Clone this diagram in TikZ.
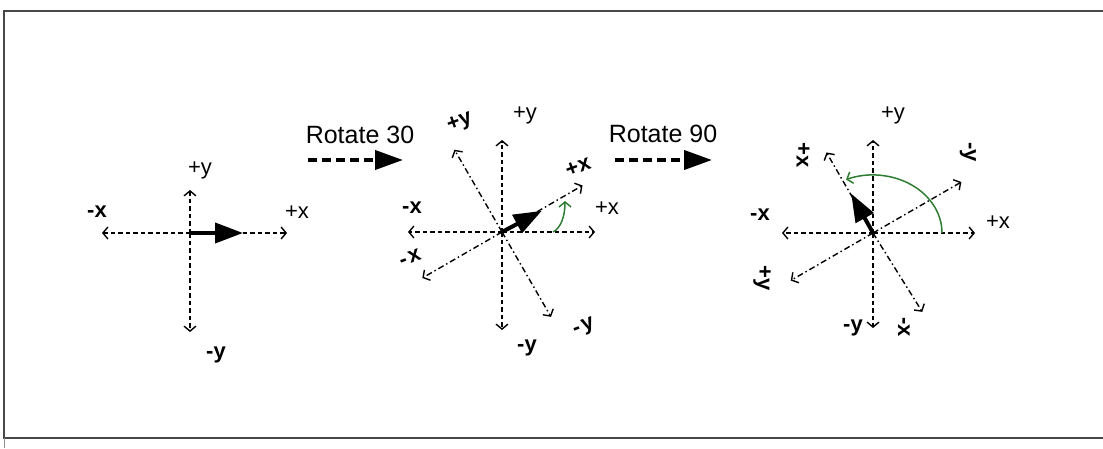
\documentclass[tikz,border=0pt]{standalone}
\usepackage{fontspec}
\setmainfont{Liberation Sans}
\usetikzlibrary{arrows.meta,calc}
\definecolor{framegray}{RGB}{72,72,72}
\definecolor{arcgreen}{RGB}{46,125,50}
\begin{document}
\begin{tikzpicture}[x=1pt,y=1pt,
  axis/.style={line width=1.4pt, dash pattern=on 4.5pt off 3pt, -{Straight Barb[length=5pt,width=12pt]}},
  raxis/.style={line width=1.4pt, dash pattern=on 6pt off 3pt on 1.5pt off 3pt, -{Straight Barb[length=5pt,width=12pt]}},
  vec/.style={line width=4pt, -{Triangle[length=28pt,width=20pt]}},
  bigarrow/.style={line width=4pt, dash pattern=on 9pt off 5pt, -{Triangle[length=28pt,width=19pt]}},
  turn/.style={arcgreen, line width=1.5pt, -{Straight Barb[length=5pt,width=12pt]}},
  lbl/.style={font=\fontsize{22}{24}\selectfont, inner sep=0pt},
  nlbl/.style={lbl, font=\fontsize{22}{24}\selectfont\bfseries},
  ttl/.style={font=\fontsize{25}{28}\selectfont, inner sep=0pt}]
\useasboundingbox (0,0) rectangle (1103,448);
\clip (0,0) rectangle (1103,448);
% frame
\draw[framegray, line width=2.5pt] (1110,437) -- (4,437) -- (4,10) -- (1110,10);
\draw[framegray!60, line width=1pt] (4,10) -- (4,0);

% ---------- diagram 1 ----------
\coordinate (c1) at (190,215);
\coordinate (c1l) at ($(c1)+(-88,0)$);
\coordinate (c1r) at ($(c1)+(97,0)$);
\coordinate (c1t) at ($(c1)+(0,43)$);
\coordinate (c1b) at ($(c1)+(0,-99)$);
\coordinate (c1v) at ($(c1)+(53,0)$);
\draw[axis] (c1) -- (c1l);
\draw[axis] (c1) -- (c1r);
\draw[axis] (c1) -- (c1t);
\draw[axis] (c1) -- (c1b);
\draw[vec] (c1) -- (c1v);
\node[lbl] (d1py) at (200,278) {+y};
\node[nlbl] (d1mx) at (97,236) {-x};
\node[lbl] (d1px) at (297,236) {+x};
\node[nlbl] (d1my) at (216,93) {-y};

% ---------- arrow 1 ----------
\node[ttl] (r30) at (360,313) {Rotate 30};
\coordinate (a1s) at (308,288);
\coordinate (a1e) at (403,288);
\draw[bigarrow] (a1s) -- (a1e);

% ---------- diagram 2 ----------
\coordinate (c2) at (502,216);
\coordinate (c2l) at ($(c2)+(-94,0)$);
\coordinate (c2r) at ($(c2)+(93,0)$);
\coordinate (c2t) at ($(c2)+(0,92)$);
\coordinate (c2b) at ($(c2)+(0,-98)$);
\coordinate (c2p) at ($(c2)+(30:93)$);
\coordinate (c2q) at ($(c2)+(120:95)$);
\coordinate (c2m) at ($(c2)+(210:92)$);
\coordinate (c2n) at ($(c2)+(300:98)$);
\coordinate (c2v) at ($(c2)+(28:45)$);
\draw[axis] (c2) -- (c2l);
\draw[axis] (c2) -- (c2r);
\draw[axis] (c2) -- (c2t);
\draw[axis] (c2) -- (c2b);
\draw[raxis] (c2) -- (c2p);
\draw[raxis] (c2) -- (c2q);
\draw[raxis] (c2) -- (c2m);
\draw[raxis] (c2) -- (c2n);
\draw[vec] (c2) -- (c2v);
\coordinate (g2s) at (553,216);
\coordinate (g2e) at (565,247);
\draw[turn] (g2s) .. controls (561,220) and (565,232) .. (g2e);
\node[lbl] (d2py) at (525,333) {+y};
\node[lbl] (d2px) at (607,240) {+x};
\node[nlbl] (d2mx) at (412,240) {-x};
\node[nlbl] (d2my) at (527,100) {-y};
\node[nlbl, rotate=20] (d2rpy) at (460,325) {+y};
\node[nlbl, rotate=20] (d2rpx) at (578,281) {+x};
\node[nlbl, rotate=20] (d2rmx) at (410,190) {-\kern2pt x};
\node[nlbl, rotate=20] (d2rmy) at (584,120) {-\kern2pt y};

% ---------- arrow 2 ----------
\node[ttl] (r90) at (663,314) {Rotate 90};
\coordinate (a2s) at (615,288);
\coordinate (a2e) at (712,288);
\draw[bigarrow] (a2s) -- (a2e);

% ---------- diagram 3 ----------
\coordinate (c3) at (873,215);
\coordinate (c3l) at ($(c3)+(-91,0)$);
\coordinate (c3r) at ($(c3)+(102,0)$);
\coordinate (c3t) at ($(c3)+(0,93)$);
\coordinate (c3b) at ($(c3)+(0,-95)$);
\coordinate (c3p) at ($(c3)+(30:102)$);
\coordinate (c3q) at ($(c3)+(120:93)$);
\coordinate (c3m) at ($(c3)+(210:95)$);
\coordinate (c3n) at ($(c3)+(302:93)$);
\coordinate (c3v) at ($(c3)+(119:45)$);
\draw[axis] (c3) -- (c3l);
\draw[axis] (c3) -- (c3r);
\draw[axis] (c3) -- (c3t);
\draw[axis] (c3) -- (c3b);
\draw[raxis] (c3) -- (c3p);
\draw[raxis] (c3) -- (c3q);
\draw[raxis] (c3) -- (c3m);
\draw[raxis] (c3) -- (c3n);
\draw[vec] (c3) -- (c3v);
\coordinate (g3s) at ($(c3)+(69,0)$);
\draw[turn] (g3s) arc[start angle=0, end angle=113, x radius=69, y radius=58];
\node[lbl] (d3py) at (893,333) {+y};
\node[lbl] (d3px) at (998,226) {+x};
\node[nlbl] (d3mx) at (760,233) {-x};
\node[nlbl] (d3my) at (853,120) {-y};
\node[nlbl, rotate=-90] (d3rpx) at (803,293) {+x};
\node[nlbl, rotate=-90] (d3rmy) at (968,296) {-y};
\node[nlbl, rotate=-90] (d3rpy) at (762,170) {+y};
\node[nlbl, rotate=-90] (d3rmx) at (904,121) {-x};
\end{tikzpicture}
\end{document}
